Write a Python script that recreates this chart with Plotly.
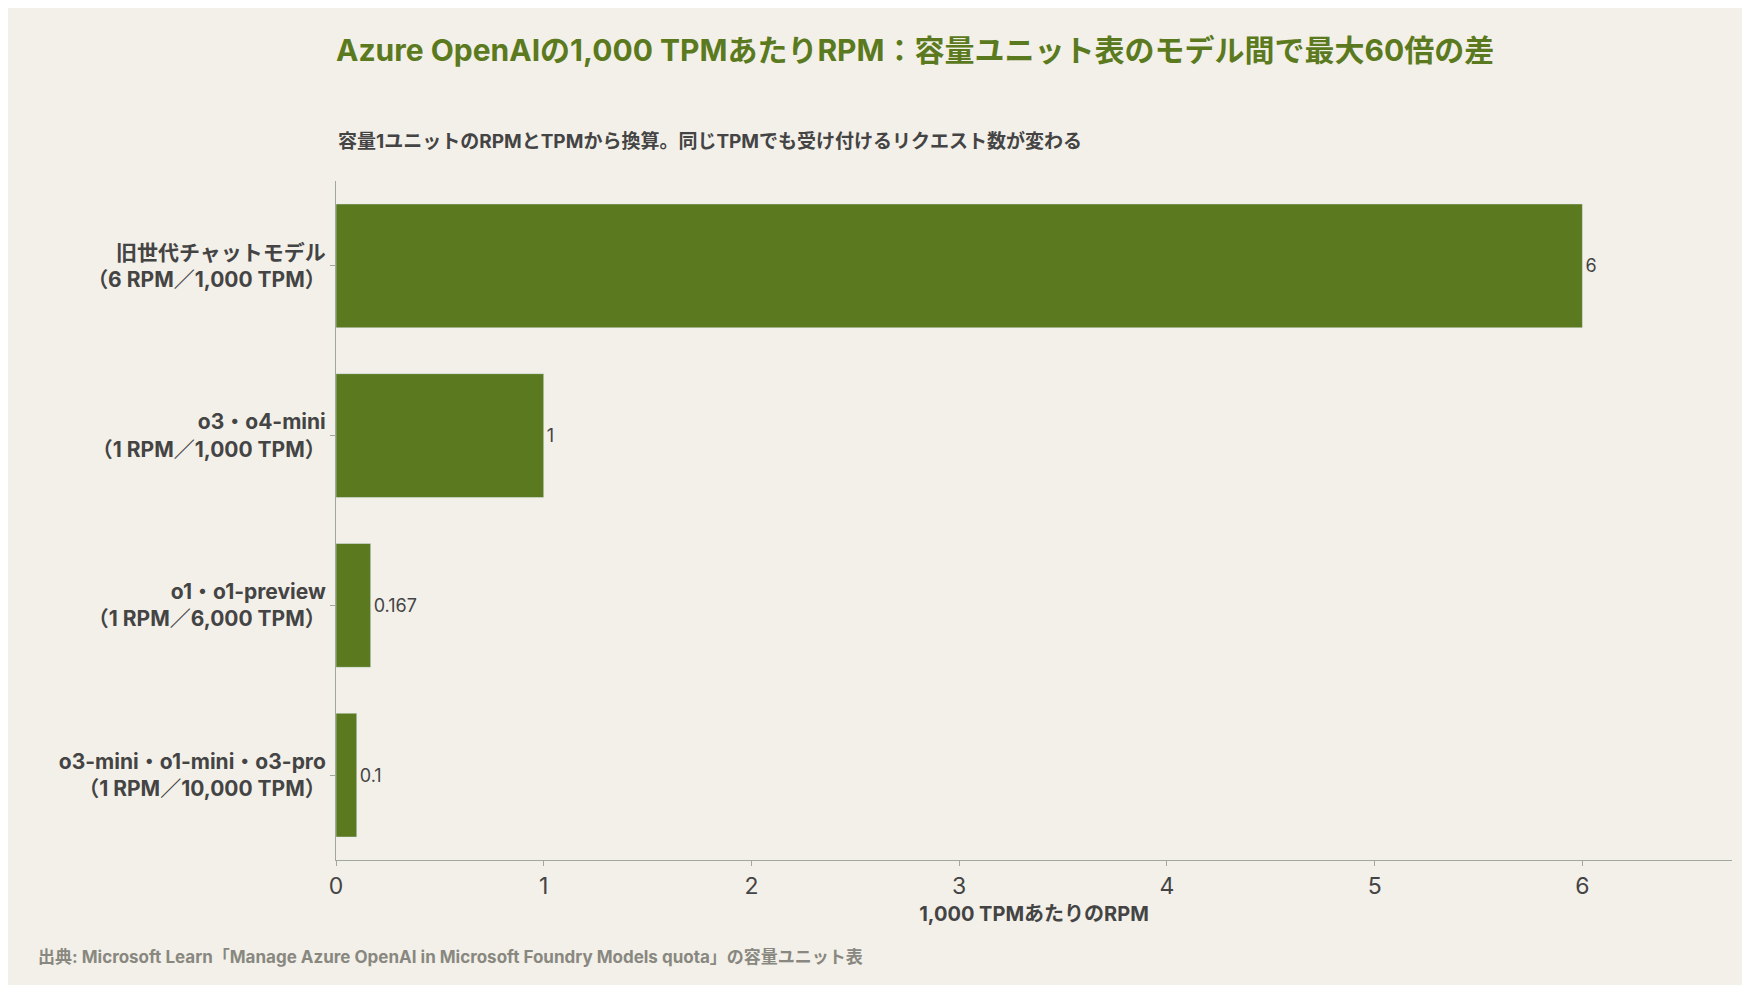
import plotly.graph_objects as go

categories = [
    "<b>旧世代チャットモデル<br>（6 RPM／1,000 TPM）</b>",
    "<b>o3・o4-mini<br>（1 RPM／1,000 TPM）</b>",
    "<b>o1・o1-preview<br>（1 RPM／6,000 TPM）</b>",
    "<b>o3-mini・o1-mini・o3-pro<br>（1 RPM／10,000 TPM）</b>",
]
values = [6, 1, 0.167, 0.1]
labels = ["6", "1", "0.167", "0.1"]

green = "#5b7a20"
bg = "#f3f0e9"
font = "Inter, Noto Sans CJK JP"

fig = go.Figure(go.Bar(
    x=values, y=categories, orientation="h",
    marker_color=green, width=0.73,
    text=labels, textposition="outside",
    textfont=dict(size=18, color="#444444"),
    cliponaxis=False,
))

fig.update_layout(
    width=1750, height=985,
    paper_bgcolor=bg, plot_bgcolor=bg,
    font=dict(family=font, color="#444444"),
    margin=dict(l=328, r=26, t=173, b=133),
    showlegend=False,
    title=dict(
        text="<b>Azure OpenAIの1,000 TPMあたりRPM：容量ユニット表のモデル間で最大60倍の差</b>",
        x=328 / 1750, xanchor="left", y=1 - 42 / 985, yanchor="middle",
        font=dict(size=30, color=green, family=font),
    ),
    annotations=[
        dict(text="<b>容量1ユニットのRPMとTPMから換算。同じTPMでも受け付けるリクエスト数が変わる</b>",
             xref="paper", yref="paper", x=0, y=1 + 40 / 679, xanchor="left", yanchor="middle",
             showarrow=False, font=dict(size=19, color="#444444")),
        dict(text="<b>出典: Microsoft Learn「Manage Azure OpenAI in Microsoft Foundry Models quota」の容量ユニット表</b>",
             xref="paper", yref="paper", x=-300 / 1396, y=-97 / 679, xanchor="left", yanchor="middle",
             showarrow=False, font=dict(size=17, color="#888880")),
    ],
)
fig.update_xaxes(
    range=[0, 6.72], tickvals=[0, 1, 2, 3, 4, 5, 6], showgrid=False, zeroline=False,
    showline=True, linecolor="#a0a89a", ticks="outside", ticklen=5, tickcolor="#a0a89a",
    tickfont=dict(size=23, color="#444444"),
    title=dict(text="<b>1,000 TPMあたりのRPM</b>", font=dict(size=20, color="#444444"), standoff=8),
)
fig.update_yaxes(
    categoryorder="array", categoryarray=categories[::-1], showgrid=False,
    showline=True, linecolor="#a0a89a", ticks="outside", ticklen=5, tickcolor="#a0a89a",
    tickfont=dict(size=21, color="#444444"),
)

fig.write_html("out.html")
